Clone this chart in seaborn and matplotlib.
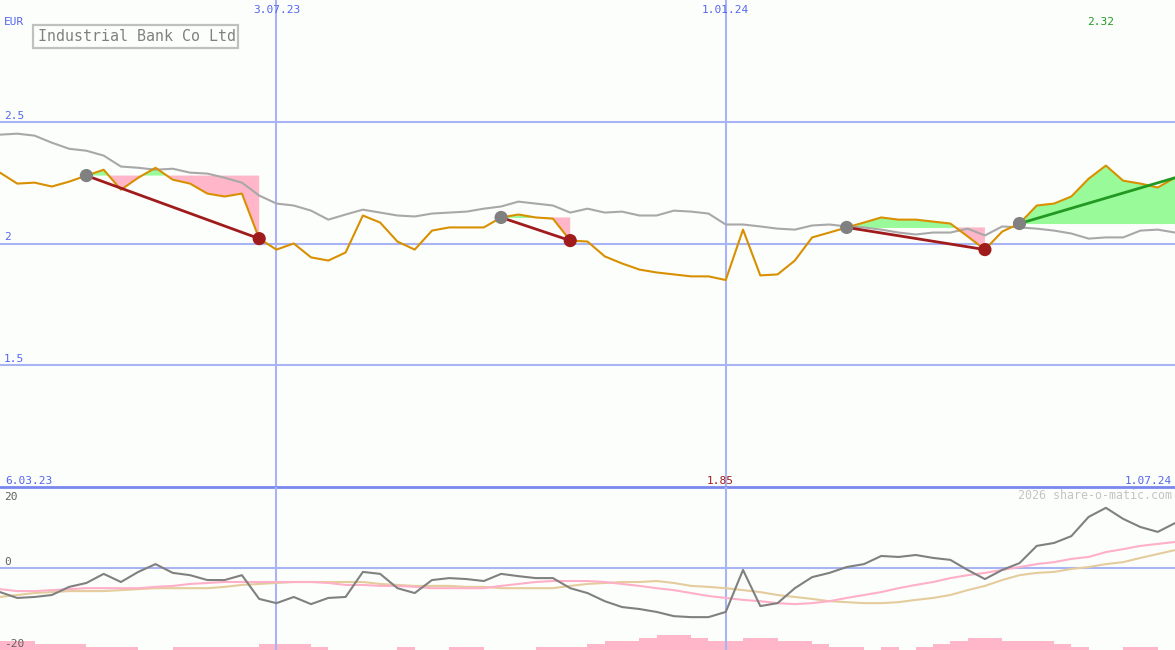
import matplotlib
matplotlib.use("Agg")
import matplotlib.pyplot as plt
import matplotlib.transforms as mtransforms
from matplotlib.patches import Rectangle
import numpy as np
import pandas as pd
import seaborn as sns

# ---------------- data ----------------
weeks = list(range(69))  # weekly points, week 0 = left edge

price = [2.291, 2.246, 2.250, 2.234, 2.254, 2.279, 2.303, 2.221, 2.270, 2.311,
         2.262, 2.246, 2.205, 2.193, 2.205, 2.020, 1.975, 2.000, 1.943, 1.930,
         1.963, 2.115, 2.086, 2.008, 1.975, 2.053, 2.066, 2.066, 2.066, 2.107,
         2.119, 2.107, 2.102, 2.012, 2.008, 1.947, 1.918, 1.893, 1.881, 1.873,
         1.865, 1.865, 1.850, 2.057, 1.869, 1.873, 1.930, 2.025, 2.045, 2.066,
         2.086, 2.107, 2.098, 2.098, 2.090, 2.082, 2.029, 1.975, 2.049, 2.082,
         2.156, 2.164, 2.193, 2.266, 2.320, 2.258, 2.246, 2.230, 2.270]

moving_avg = [2.447, 2.451, 2.443, 2.414, 2.389, 2.381, 2.361, 2.316, 2.311, 2.303,
              2.307, 2.291, 2.287, 2.270, 2.250, 2.197, 2.164, 2.156, 2.135, 2.098,
              2.119, 2.139, 2.127, 2.115, 2.111, 2.123, 2.127, 2.131, 2.143, 2.152,
              2.172, 2.164, 2.156, 2.127, 2.143, 2.127, 2.131, 2.115, 2.115, 2.135,
              2.131, 2.123, 2.078, 2.078, 2.070, 2.061, 2.057, 2.074, 2.078, 2.070,
              2.066, 2.057, 2.045, 2.037, 2.045, 2.045, 2.061, 2.033, 2.070, 2.066,
              2.061, 2.053, 2.041, 2.020, 2.025, 2.025, 2.053, 2.057, 2.045]

osc_main = [-7.4, -9.2, -8.9, -8.3, -5.8, -4.6, -1.8, -4.3, -1.2, 1.2,
            -1.5, -2.2, -3.7, -3.7, -2.2, -9.5, -10.8, -8.9, -11.1, -9.2,
            -8.9, -1.2, -1.8, -6.2, -7.7, -3.7, -3.1, -3.4, -4.0, -1.8,
            -2.5, -3.1, -3.1, -6.2, -7.7, -10.2, -12.0, -12.6, -13.5, -14.8,
            -15.1, -15.1, -13.5, -0.6, -11.7, -10.8, -6.2, -2.8, -1.5, 0.3,
            1.2, 3.7, 3.4, 4.0, 3.1, 2.5, -0.6, -3.4, -0.6, 1.5,
            6.8, 7.7, 9.8, 15.7, 18.5, 15.1, 12.6, 11.1, 13.8]

osc_pink = [-6.5, -7.1, -7.1, -6.8, -6.5, -6.2, -6.2, -6.2, -6.2, -5.8,
            -5.5, -4.9, -4.6, -4.3, -4.3, -4.3, -4.3, -4.3, -4.3, -4.6,
            -5.2, -5.2, -5.5, -5.5, -5.8, -6.2, -6.2, -6.2, -6.2, -5.5,
            -4.9, -4.3, -4.0, -4.0, -4.0, -4.3, -4.9, -5.5, -6.2, -6.8,
            -7.7, -8.6, -9.2, -9.8, -10.2, -10.8, -11.1, -10.8, -10.2, -9.2,
            -8.3, -7.4, -6.2, -5.2, -4.3, -3.1, -2.2, -1.5, -0.6, 0.3,
            1.2, 1.8, 2.8, 3.4, 4.9, 5.8, 6.8, 7.4, 8.0]

osc_tan = [-8.9, -8.3, -7.7, -7.4, -7.1, -7.1, -7.1, -6.8, -6.5, -6.2,
           -6.2, -6.2, -6.2, -5.8, -5.2, -4.9, -4.6, -4.3, -4.3, -4.3,
           -4.3, -4.3, -4.9, -5.2, -5.5, -5.5, -5.5, -5.8, -5.8, -6.2,
           -6.2, -6.2, -6.2, -5.5, -4.9, -4.6, -4.3, -4.3, -4.0, -4.6,
           -5.5, -5.8, -6.2, -6.8, -7.4, -8.3, -8.9, -9.5, -10.2, -10.5,
           -10.8, -10.8, -10.5, -9.8, -9.2, -8.3, -6.8, -5.5, -3.7, -2.2,
           -1.5, -1.2, -0.3, 0.3, 1.2, 1.8, 3.1, 4.3, 5.5]

volume = [3, 3, 2, 2, 2, 1, 1, 1, 0, 0,
          1, 1, 1, 1, 1, 2, 2, 2, 1, 0,
          0, 0, 0, 1, 0, 0, 1, 1, 0, 0,
          0, 1, 1, 1, 2, 3, 3, 4, 5, 5,
          4, 3, 3, 4, 4, 3, 3, 2, 1, 1,
          0, 1, 0, 1, 2, 3, 4, 4, 3, 3,
          3, 2, 1, 0, 0, 1, 1, 0, 0]

buy_idx = [5, 29, 49, 59]
sell_idx = [15, 33, 57, None]      # None = position still open

date_tick_pos = [16, 42]
date_tick_labels = ["3.07.23", "1.01.24"]
start_label = "6.03.23"
end_label = "1.07.24"
price_levels = [1.5, 2.0, 2.5]
price_level_labels = ["1.5", "2", "2.5"]
osc_levels = [20, 0, -20]
title = "Industrial Bank Co Ltd"
currency = "EUR"
watermark = "2026 share-o-matic.com"

# ---------------- style ----------------
BG = "#fcfefc"
GRID = "#a8b4f4"
SEP = "#7888ee"
BLUE_TXT = "#5566ee"
ORANGE = "#d89000"
MA_GRAY = "#a8a8a8"
BUY_C = "#808080"
SELL_C = "#a01c1c"
GAIN_C = "#229922"
GREEN_FILL = "#98fa98"
PINK_FILL = "#ffb6c8"
OSC_C = "#808080"
OSC_PINK = "#ffb0c8"
OSC_TAN = "#e4cc9c"

sns.set_theme(style="white")
plt.rcParams["font.family"] = ["DejaVu Sans Mono", "DejaVu Sans"]

W, H = 1175, 650
fig = plt.figure(figsize=(W / 100, H / 100), dpi=100, facecolor=BG)
split = 163 / H
ax = fig.add_axes([0, split, 1, 1 - split])
axb = fig.add_axes([0, 0, 1, split])

for a in (ax, axb):
    a.set_facecolor(BG)
    for s in a.spines.values():
        s.set_visible(False)
    a.set_xticks([])
    a.set_yticks([])

ax.set_xlim(0, 68)
ax.set_ylim(1.0, 3.0)
axb.set_xlim(0, 68)
axb.set_ylim(-25.2, 24.9)

# ---------------- main panel ----------------
for lv in price_levels:
    ax.axhline(lv, color=GRID, lw=1.5, zorder=1)
for xp in date_tick_pos:
    ax.axvline(xp, color=GRID, lw=1.5, zorder=1)
    axb.axvline(xp, color=GRID, lw=1.5, zorder=1)
ax.spines["bottom"].set_visible(True)
ax.spines["bottom"].set_color(SEP)
ax.spines["bottom"].set_linewidth(2)

df = pd.DataFrame({"week": weeks, "price": price, "ma": moving_avg,
                   "osc": osc_main, "osc_pink": osc_pink, "osc_tan": osc_tan,
                   "volume": volume})

# trade fills
x_arr = np.array(weeks, dtype=float)
p_arr = np.array(price)
for b, s in zip(buy_idx, sell_idx):
    e = s if s is not None else len(weeks) - 1
    xs = x_arr[b:e + 1]
    ps = p_arr[b:e + 1]
    lvl = price[b]
    ax.fill_between(xs, ps, lvl, where=ps >= lvl, interpolate=True,
                    color=GREEN_FILL, lw=0, zorder=2)
    ax.fill_between(xs, ps, lvl, where=ps <= lvl, interpolate=True,
                    color=PINK_FILL, lw=0, zorder=2)

sns.lineplot(data=df, x="week", y="ma", ax=ax, color=MA_GRAY, lw=1.5, zorder=3)
sns.lineplot(data=df, x="week", y="price", ax=ax, color=ORANGE, lw=1.5, zorder=4)

for b, s in zip(buy_idx, sell_idx):
    e = s if s is not None else len(weeks) - 1
    col = GAIN_C if price[e] >= price[b] else SELL_C
    sns.lineplot(x=[weeks[b], weeks[e]], y=[price[b], price[e]], ax=ax,
                 color=col, lw=2.0, zorder=5)

sns.scatterplot(x=[weeks[b] for b in buy_idx], y=[price[b] for b in buy_idx],
                ax=ax, s=90, color=BUY_C, edgecolor="none", zorder=6)
closed = [s for s in sell_idx if s is not None]
sns.scatterplot(x=[weeks[s] for s in closed], y=[price[s] for s in closed],
                ax=ax, s=90, color=SELL_C, edgecolor="none", zorder=6)
ax.set_xlabel("")
ax.set_ylabel("")
ax.set_xticks([])
ax.set_yticks([])

# ---------------- lower panel ----------------
axv = axb.twinx()
axv.set_ylim(0, 163 / 3)
axv.set_xlim(0, 68)
axv.bar(df["week"], df["volume"], width=1.0, align="edge", color=PINK_FILL,
        lw=0)
for s in axv.spines.values():
    s.set_visible(False)
axv.set_yticks([])
axv.set_zorder(axb.get_zorder() - 1)
axb.patch.set_visible(False)
axv.patch.set_visible(False)

axb.axhline(0, color=GRID, lw=1.5, zorder=1)
sns.lineplot(data=df, x="week", y="osc_tan", ax=axb, color=OSC_TAN, lw=1.5, zorder=2)
sns.lineplot(data=df, x="week", y="osc_pink", ax=axb, color=OSC_PINK, lw=1.5, zorder=3)
sns.lineplot(data=df, x="week", y="osc", ax=axb, color=OSC_C, lw=1.5, zorder=4)
axb.set_xlabel("")
axb.set_ylabel("")
axb.set_xticks([])
axb.set_yticks([])

# ---------------- texts ----------------
def fy(py):
    return 1 - py / H

def fx(px):
    return px / W

fs = 8
tr_top = mtransforms.blended_transform_factory(ax.transData, fig.transFigure)

fig.text(fx(4), fy(27), currency, color=BLUE_TXT, fontsize=fs, ha="left", va="bottom")
for xp, lab in zip(date_tick_pos, date_tick_labels):
    fig.text(xp, fy(15), lab, transform=tr_top, color=BLUE_TXT, fontsize=fs,
             ha="center", va="bottom")

imax = int(np.argmax(price))
imin = int(np.argmin(price))
fig.text(weeks[imax] - 0.3, fy(27), f"{price[imax]:.2f}", transform=tr_top,
         color=GAIN_C, fontsize=fs, ha="center", va="bottom")
fig.text(weeks[imin] - 0.3, fy(486), f"{price[imin]:.2f}", transform=tr_top,
         color=SELL_C, fontsize=fs, ha="center", va="bottom")

tr_lv = mtransforms.blended_transform_factory(fig.transFigure, ax.transData)
lv_offset = mtransforms.ScaledTranslation(0, 1 / 100, fig.dpi_scale_trans)
for lv, lab in zip(price_levels, price_level_labels):
    ax.text(fx(4), lv, lab, transform=tr_lv + lv_offset, color=BLUE_TXT,
            fontsize=fs, ha="left", va="bottom")

fig.text(fx(5), fy(486), start_label, color=BLUE_TXT, fontsize=fs, ha="left", va="bottom")
fig.text(fx(1172), fy(486), end_label, color=BLUE_TXT, fontsize=fs, ha="right", va="bottom")
fig.text(fx(1172), fy(502), watermark, color="#c4c4c4", fontsize=8.4,
         ha="right", va="bottom")

osc_label_y = [502, 567, 649]
for lv, py in zip(osc_levels, osc_label_y):
    fig.text(fx(4), fy(py), str(lv), color="#606060", fontsize=fs,
             ha="left", va="bottom")

# title box
fig.patches.append(Rectangle((fx(33), fy(48)), fx(238) - fx(33), fy(25) - fy(48),
                             transform=fig.transFigure, fill=False,
                             edgecolor="#c0c0c0", lw=1.6))
fig.text(fx(38), fy(36.5), title, color="#808080", fontsize=10.8,
         ha="left", va="center")

fig.savefig("out.png", dpi=100, facecolor=BG)
